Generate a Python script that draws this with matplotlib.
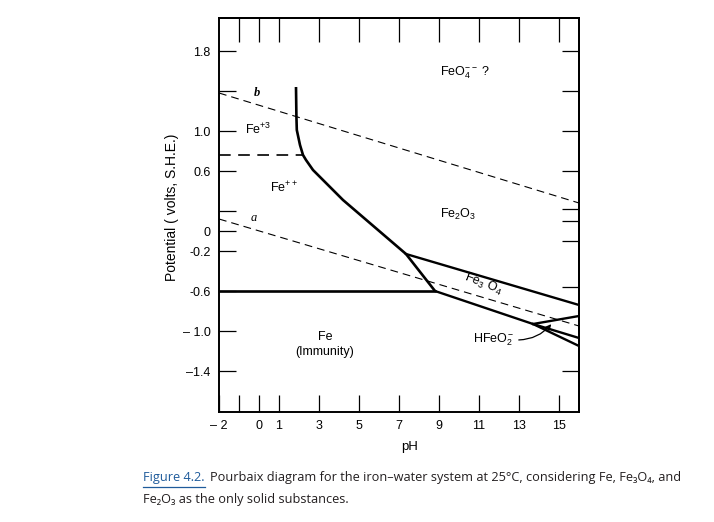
import matplotlib
matplotlib.use('Agg')
import matplotlib.pyplot as plt

plt.rcParams['font.family'] = ['Liberation Sans', 'DejaVu Sans']
plt.rcParams['mathtext.fontset'] = 'custom'
plt.rcParams['mathtext.rm'] = 'Liberation Sans'
plt.rcParams['mathtext.it'] = 'Liberation Sans:italic'

# ---- data (pH, volts S.H.E.) ----
# Fe+3 / Fe++ -> Fe2O3 -> Fe3O4 boundary (thick)
bnd_pH = [1.85, 1.87, 1.89, 2.05, 2.2, 2.35, 2.7, 4.2, 7.35, 8.8]
bnd_V = [1.44, 1.15, 1.01, 0.86, 0.76, 0.71, 0.61, 0.31, -0.23, -0.60]

# Fe+3 / Fe++ dashed
fe3_pH = [-2, 2.2]
fe3_V = [0.76, 0.76]

# Fe / Fe++ (immunity line)
imm_pH = [-2, 8.8]
imm_V = [-0.60, -0.60]

# Fe2O3 / Fe3O4
upper_pH = [7.35, 16]
upper_V = [-0.23, -0.74]

# Fe3O4 / Fe
lower_pH = [8.8, 13.7, 16]
lower_V = [-0.60, -0.93, -1.07]

# HFeO2- region lines
hfe_up_pH = [13.7, 16]
hfe_up_V = [-0.93, -0.85]
hfe_low_pH = [13.7, 16]
hfe_low_V = [-0.93, -1.15]

# water lines a and b
b_pH = [-2, 16]
b_V = [1.38, 0.28]
a_pH = [-2, 16]
a_V = [0.12, -0.95]

x_ticks = [-2, -1, 0, 1, 3, 5, 7, 9, 11, 13, 15]
x_labels = ['\u2013 2', '', '0', '1', '3', '5', '7', '9', '11', '13', '15']
top_ticks = [-1, 0, 1, 3, 5, 7, 9, 11, 13, 15]
y_ticks = [1.8, 1.4, 1.0, 0.6, 0.2, 0.0, -0.2, -0.6, -1.0, -1.4]
y_labels = ['1.8', '', '1.0', '0.6', '', '0', '-0.2', '-0.6', '\u2013 1.0', '\u20131.4']
right_ticks = [1.8, 1.4, 1.0, 0.6, 0.22, 0.1, -0.1, -0.56, -1.4]

fig = plt.figure(figsize=(7.14, 5.22), dpi=100)
ax = fig.add_axes([219/714, 1-412/522, 360/714, 394/522])
ax.set_xlim(-2, 16)
ax.set_ylim(-1.81, 2.13)

dash = (0, (7, 4.5))
ax.plot(bnd_pH, bnd_V, color='black', lw=1.9, solid_capstyle='butt')
ax.plot(imm_pH, imm_V, color='black', lw=1.9)
ax.plot(upper_pH, upper_V, color='black', lw=1.7)
ax.plot(lower_pH, lower_V, color='black', lw=1.7)
ax.plot(hfe_up_pH, hfe_up_V, color='black', lw=1.7)
ax.plot(hfe_low_pH, hfe_low_V, color='black', lw=1.7)
ax.plot(fe3_pH, fe3_V, color='black', lw=1.2, linestyle=dash)
ax.plot(b_pH, b_V, color='black', lw=0.8, linestyle=dash)
ax.plot(a_pH, a_V, color='black', lw=0.8, linestyle=dash)

# region labels
ax.text(-0.7, 1.02, 'Fe$^{+3}$', fontsize=9, ha='left', va='center')
ax.text(1.25, 0.43, 'Fe$^{++}$', fontsize=9, ha='center', va='center')
ax.text(10.3, 1.58, 'FeO$_4^{--}$ ?', fontsize=9, ha='center', va='center')
ax.text(9.95, 0.17, 'Fe$_2$O$_3$', fontsize=9, ha='center', va='center')
ax.text(11.2, -0.53, 'Fe$_3$ O$_4$', fontsize=9, ha='center', va='center', rotation=-21)
ax.text(3.3, -1.06, 'Fe', fontsize=9, ha='center', va='center')
ax.text(3.3, -1.21, '(Immunity)', fontsize=9, ha='center', va='center')
ax.text(11.75, -1.09, 'HFeO$_2^-$', fontsize=9, ha='center', va='center')
ax.text(-0.1, 1.38, 'b', fontsize=9, ha='center', va='center',
        family='Liberation Serif', style='italic', weight='bold')
ax.text(-0.25, 0.13, 'a', fontsize=9, ha='center', va='center',
        family='Liberation Serif', style='italic')
ax.annotate('', xy=(14.7, -0.91), xytext=(12.85, -1.09),
            arrowprops=dict(arrowstyle='-|>', color='black', lw=0.9,
                            connectionstyle='arc3,rad=0.25', mutation_scale=8))

for sp in ax.spines.values():
    sp.set_linewidth(1.4)

ax.set_xticks(x_ticks)
ax.set_xticklabels(x_labels)
ax.set_yticks(y_ticks)
ax.set_yticklabels(y_labels)
ax.tick_params(direction='in', length=12, width=0.9, labelsize=9, pad=6)

top = ax.secondary_xaxis('top')
top.set_xticks(top_ticks)
top.tick_params(direction='in', length=17, width=0.9, labeltop=False)
top.spines['top'].set_linewidth(1.4)

right = ax.secondary_yaxis('right')
right.set_yticks(right_ticks)
right.tick_params(direction='in', length=12, width=0.9, labelright=False)
right.spines['right'].set_linewidth(1.4)

fig.text(410/714, 1-447/522, 'pH', fontsize=9.5, ha='center', va='center')
fig.text(172/714, 1-207/522, 'Potential ( volts, S.H.E.)', fontsize=10,
         ha='center', va='center', rotation=90)

# caption
cap_font = ['Open Sans', 'DejaVu Sans']
blue = '#1f5b9b'
cap_y = 1 - 478/522
t1 = fig.text(143/714, cap_y, 'Figure 4.2.', fontsize=9.2, color=blue,
              family=cap_font, ha='left', va='center')
fig.canvas.draw()
bb = t1.get_window_extent()
x1 = bb.x1 / fig.bbox.width
fig.add_artist(plt.Line2D([143/714, x1], [bb.y0/fig.bbox.height - 0.004]*2,
                          color=blue, lw=0.9, transform=fig.transFigure))
fig.text(x1 + 6/714, cap_y,
         'Pourbaix diagram for the iron\u2013water system at 25\u00b0C, considering Fe, Fe\u2083O\u2084, and',
         fontsize=9.2, color='#231f20', family=cap_font, ha='left', va='center')
fig.text(143/714, 1-500/522, 'Fe\u2082O\u2083 as the only solid substances.',
         fontsize=9.2, color='#231f20', family=cap_font, ha='left', va='center')

fig.savefig('out.png', dpi=100)
